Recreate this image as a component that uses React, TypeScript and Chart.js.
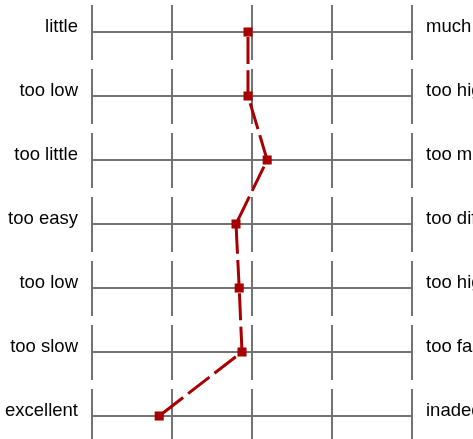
import React, { useEffect, useRef } from "react";
import { Chart, registerables } from "chart.js";

Chart.register(...registerables);

const leftLabels = ["little", "too low", "too little", "too easy", "too low", "too slow", "excellent"];
const rightLabels = ["much", "too high", "too much", "too difficult", "too high", "too fast", "inadequate"];
const scores = [2.95, 2.95, 3.19, 2.8, 2.84, 2.875, 1.84];
const scaleMin = 1;
const scaleMax = 5;

export default function App() {
  const ref = useRef<HTMLCanvasElement | null>(null);

  useEffect(() => {
    document.body.style.margin = "0";
    const canvas = ref.current;
    if (!canvas) return;
    const gridColor = "#737373";
    const font = { family: "'Liberation Sans', Arial, sans-serif", size: 18.5 };
    const chart = new Chart(canvas, {
      type: "line",
      data: {
        labels: leftLabels,
        datasets: [
          {
            data: scores,
            borderColor: "#a80000",
            backgroundColor: "#a80000",
            borderWidth: 3,
            borderDash: [27, 6.3],
            borderDashOffset: -5,
            pointStyle: "rect",
            pointRadius: 6.4,
            pointBorderWidth: 0,
            pointBackgroundColor: "#a80000",
            fill: false,
            tension: 0,
          },
        ],
      },
      options: {
        indexAxis: "y",
        responsive: false,
        animation: false,
        devicePixelRatio: 1,
        layout: { padding: 0, autoPadding: false },
        plugins: { legend: { display: false }, tooltip: { enabled: false } },
        scales: {
          x: {
            type: "linear",
            min: scaleMin,
            max: scaleMax,
            ticks: { display: false, stepSize: 1 },
            grid: { color: gridColor, lineWidth: 2, drawTicks: false },
            border: { display: false, dash: [55, 9], dashOffset: -5 },
            afterFit: (s: any) => {
              s.height = 0;
              s.paddingLeft = 0;
              s.paddingRight = 0;
            },
          },
          y: {
            type: "category",
            position: "left",
            offset: true,
            grid: { color: gridColor, lineWidth: 2, drawTicks: false, offset: false },
            border: { display: false },
            ticks: { color: "#000", font, padding: 14, labelOffset: -5 },
            afterFit: (s: any) => {
              s.width = 92;
              s.paddingTop = 0;
              s.paddingBottom = 0;
            },
          },
          y2: {
            type: "category",
            position: "right",
            labels: rightLabels,
            offset: true,
            grid: { display: false, drawTicks: false },
            border: { display: false },
            ticks: { color: "#000", font, padding: 14, labelOffset: -5 },
            afterFit: (s: any) => {
              s.width = 61;
              s.paddingTop = 0;
              s.paddingBottom = 0;
            },
          },
        },
      },
    } as any);
    return () => chart.destroy();
  }, []);

  return (
    <div style={{ width: 473, height: 439, overflow: "hidden" }}>
      <canvas ref={ref} width={473} height={448} style={{ display: "block" }} />
    </div>
  );
}
